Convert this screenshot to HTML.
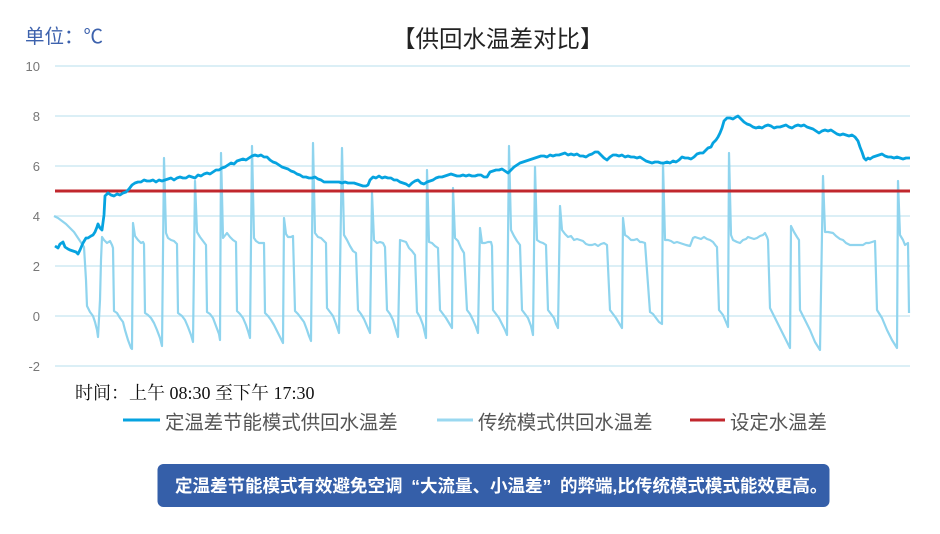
<!DOCTYPE html>
<html><head><meta charset="utf-8">
<style>
html,body{margin:0;padding:0;background:#fff;}
body{width:940px;height:534px;position:relative;overflow:hidden;font-family:"Liberation Sans","Noto Sans CJK SC",sans-serif;}
.t{position:absolute;white-space:nowrap;}
.q{display:inline-block;width:17.5px;}
</style></head>
<body>
<svg width="940" height="534" style="position:absolute;left:0;top:0">
<g stroke="#cfeaf3" stroke-width="1.5">
<line x1="55" y1="66" x2="910" y2="66"/>
<line x1="55" y1="116" x2="910" y2="116"/>
<line x1="55" y1="166" x2="910" y2="166"/>
<line x1="55" y1="216" x2="910" y2="216"/>
<line x1="55" y1="266" x2="910" y2="266"/>
<line x1="55" y1="316" x2="910" y2="316"/>
<line x1="55" y1="366" x2="910" y2="366"/>
</g>
<g font-family="Liberation Sans, sans-serif" font-size="13" fill="#777" text-anchor="end">
<text x="40" y="71">10</text>
<text x="40" y="121">8</text>
<text x="40" y="171">6</text>
<text x="40" y="221">4</text>
<text x="40" y="271">2</text>
<text x="40" y="321">0</text>
<text x="40" y="371">-2</text>
</g>
<polyline fill="none" stroke="#8fd4ee" stroke-width="2.2" stroke-linejoin="round" points="54,216 58,218 62,221 66,224 70,228 74,232 78,238 82,244 84,247 86,280 87,306 90,312 93,316 95,322 97,330 98,337 100,300 101,260 102,237 104,240 107,243 110,241 112,245 113,248 114,311 117,313 120,318 123,322 125,330 128,340 131,348 132,349 133,223 135,236 138,240 141,243 143,242 144,244 145,313 148,315 151,318 154,323 157,330 160,338 162,346 164,158 166,233 168,238 171,240 174,241 177,244 178,313 182,316 185,320 188,327 191,335 193,342 195,181 197,232 200,237 203,241 206,245 207,312 210,314 213,318 216,326 219,334 220,340 221,153 223,238 227,233 230,237 233,240 236,242 237,311 240,314 243,318 246,325 248,331 250,338 252,146 254,238 256,241 259,243 262,243 264,243 265,313 268,316 271,320 274,325 277,331 280,337 283,343 284,218 286,234 288,237 291,237 293,236 295,311 298,314 301,318 304,322 307,330 309,336 311,341 313,143 315,233 318,237 321,238 323,240 326,243 327,308 330,312 333,316 336,324 339,333 342,148 344,235 347,240 350,246 353,251 356,253 358,310 361,314 364,319 367,326 370,333 372,193 374,240 377,243 380,242 383,243 385,247 387,310 390,314 393,320 396,330 398,337 400,240 403,241 406,242 409,248 412,251 415,255 417,312 420,317 423,325 426,338 427,170 429,242 432,243 435,246 438,248 440,310 443,314 446,318 449,323 452,328 453,188 455,238 458,241 461,248 464,253 467,310 470,314 473,320 476,327 478,333 480,228 482,243 485,243 488,242 491,242 492,246 493,310 496,314 499,318 502,324 505,330 507,335 509,146 511,230 514,236 517,241 520,245 522,310 525,314 528,318 531,326 533,335 535,167 537,240 540,242 543,243 546,245 548,310 551,314 554,318 556,324 558,328 560,206 562,230 565,234 568,237 571,236 574,240 577,239 580,240 583,241 586,244 589,245 592,245 595,244 598,246 601,244 604,243 607,245 610,310 613,314 616,318 619,323 622,328 623,218 625,235 628,237 631,240 634,240 637,239 640,242 642,242 645,243 650,312 653,314 656,318 659,322 662,324 663,163 665,240 668,240 671,241 674,243 677,242 680,243 683,244 686,245 690,246 693,238 695,237 698,238 701,239 704,237 707,239 710,240 713,242 716,246 717,247 719,310 723,315 726,322 728,327 729,153 731,235 733,240 737,242 740,243 743,240 746,239 748,237 751,238 754,239 757,238 760,236 763,235 765,233 767,237 768,240 770,308 775,318 780,328 785,338 790,348 791,226 794,232 797,237 799,240 800,310 805,320 810,330 815,342 820,350 823,176 825,232 828,232 833,233 836,236 840,239 843,240 846,243 850,245 855,245 860,245 863,245 866,243 869,243 872,242 875,241 877,310 882,318 887,330 892,340 897,348 898,181 900,235 903,240 905,245 908,243 909,313"/>
<line x1="55" y1="191" x2="910" y2="191" stroke="#c1272d" stroke-width="3"/>
<polyline fill="none" stroke="#06a3e0" stroke-width="2.8" stroke-linejoin="round" points="55,246 58,248 60,244 63,242 65,247 68,249 70,250 73,251 76,252 78,254 80,250 83,243 86,238 88,238 91,236 93,235 95,232 97,227 98,224 100,228 102,230 104,215 105,196 108,193 111,195 114,196 117,194 120,195 123,193 126,192 129,189 132,185 135,183 138,182 141,182 144,180 147,181 150,181 153,180 156,182 159,180 162,181 165,180 168,179 171,178 174,180 177,178 180,177 183,178 186,178 189,176 192,177 195,178 198,175 201,176 204,174 207,173 210,174 213,172 216,170 219,170 222,168 225,167 228,165 231,163 234,164 237,161 240,160 243,159 246,160 249,158 252,156 255,155 258,156 261,155 264,157 267,157 270,160 273,162 276,163 279,165 282,167 285,168 288,169 291,171 294,172 297,174 300,175 303,177 306,177 309,178 312,178 315,177 318,179 321,180 324,182 327,182 330,182 333,182 336,182 339,182 342,183 345,182 348,183 351,183 354,183 357,184 360,185 363,186 366,186 368,185 370,180 373,177 376,178 379,176 382,178 385,177 388,178 391,178 394,180 397,180 400,182 403,183 406,184 409,186 412,183 415,181 418,180 421,183 424,184 427,182 430,181 433,180 436,178 439,177 442,177 445,176 448,175 451,174 454,175 457,176 460,176 463,175 466,176 469,175 472,176 475,176 478,175 481,175 484,177 487,177 490,172 493,171 496,170 499,170 502,169 505,171 508,173 511,170 514,167 517,165 520,163 523,162 526,161 529,160 532,159 535,158 538,157 541,156 544,156 547,157 550,155 553,156 556,155 559,155 562,154 565,153 568,155 571,154 574,155 577,154 580,156 583,156 586,157 589,155 592,154 595,152 598,152 601,155 604,158 607,160 610,157 613,155 616,155 619,156 622,155 625,157 628,156 631,157 634,157 637,158 640,157 643,159 646,161 649,162 652,163 655,162 658,162 661,163 664,163 667,162 670,163 673,161 676,162 679,160 682,157 685,158 688,158 691,159 694,157 697,154 700,153 703,153 706,150 708,148 711,147 713,143 716,140 718,137 720,133 722,128 724,121 727,118 730,118 733,119 736,117 738,116 741,119 744,122 747,124 750,125 753,127 756,128 759,127 762,128 765,126 768,125 771,126 774,128 777,127 780,127 783,126 786,125 789,127 792,128 795,126 798,125 801,126 804,125 807,127 810,128 813,129 816,131 819,133 822,131 825,130 828,131 831,130 834,132 837,134 840,135 843,134 846,135 849,136 852,135 855,137 858,141 860,147 862,152 864,158 866,160 868,158 870,159 873,157 876,156 879,155 882,154 885,156 888,157 891,157 894,158 897,157 900,158 903,159 906,158 910,158"/>
<line x1="123" y1="420" x2="160" y2="420" stroke="#06a3e0" stroke-width="3"/>
<line x1="437" y1="420" x2="473" y2="420" stroke="#9ad8f0" stroke-width="3"/>
<line x1="690" y1="420" x2="725" y2="420" stroke="#c1272d" stroke-width="3"/>
<rect x="157.5" y="464" width="672" height="43" rx="6" ry="6" fill="#355fa9"/>
</svg>
<div class="t" style="left:25px;top:20px;font-size:19.5px;color:#3d62ad;">单位：℃</div>
<div class="t" style="left:392px;top:20px;font-size:23.5px;color:#222;font-family:'Noto Sans CJK SC',sans-serif;">【供回水温差对比】</div>
<div class="t" style="left:75px;top:379px;font-size:18px;color:#111;font-family:'Liberation Serif','Noto Serif CJK SC',serif;">时间：上午 08:30 至下午 17:30</div>
<div class="t" style="left:165px;top:406px;font-size:19.4px;color:#555;">定温差节能模式供回水温差</div>
<div class="t" style="left:478px;top:406px;font-size:19.4px;color:#555;">传统模式供回水温差</div>
<div class="t" style="left:730px;top:406px;font-size:19.4px;color:#555;">设定水温差</div>
<div class="t" style="left:175px;top:473px;font-size:17.5px;color:#fff;font-weight:bold;">定温差节能模式有效避免空调<span class="q" style="text-align:right">“</span>大流量、小温差<span class="q" style="text-align:left">”</span>的弊端,比传统模式模式能效更高。</div>
</body></html>
